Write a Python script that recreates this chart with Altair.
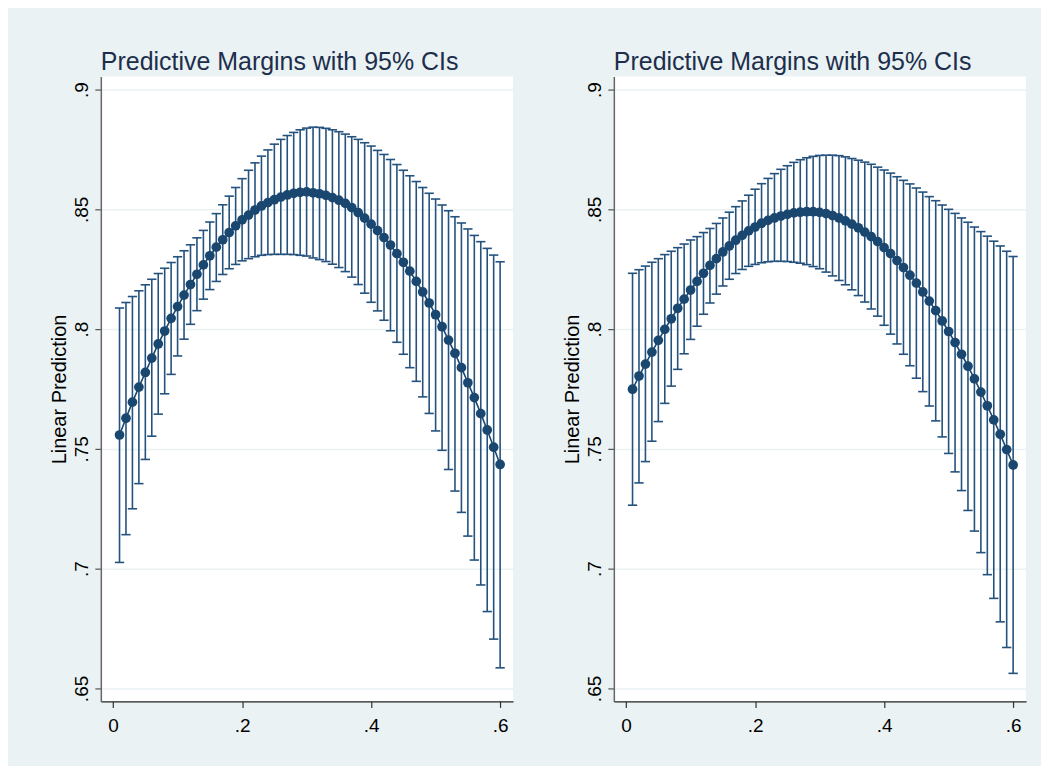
import altair as alt
import pandas as pd

# x positions (0.01 ... 0.60)
X_VALS = [0.01, 0.02, 0.03, 0.04, 0.05, 0.06, 0.07, 0.08, 0.09, 0.10,
          0.11, 0.12, 0.13, 0.14, 0.15, 0.16, 0.17, 0.18, 0.19, 0.20,
          0.21, 0.22, 0.23, 0.24, 0.25, 0.26, 0.27, 0.28, 0.29, 0.30,
          0.31, 0.32, 0.33, 0.34, 0.35, 0.36, 0.37, 0.38, 0.39, 0.40,
          0.41, 0.42, 0.43, 0.44, 0.45, 0.46, 0.47, 0.48, 0.49, 0.50,
          0.51, 0.52, 0.53, 0.54, 0.55, 0.56, 0.57, 0.58, 0.59, 0.60]

# Left panel
L_PRED = [.7558, .7628, .7695, .7758, .7819, .7879, .7938, .7992, .8045, .8094,
          .8142, .8186, .8229, .8268, .8306, .8342, .8373, .8403, .8431, .8456,
          .8476, .8497, .8514, .8528, .8540, .8551, .8560, .8567, .8571, .8573,
          .8569, .8565, .8558, .8549, .8538, .8525, .8507, .8486, .8463, .8438,
          .8411, .8382, .8351, .8315, .8279, .8242, .8199, .8155, .8109, .8060,
          .8010, .7954, .7899, .7839, .7776, .7714, .7647, .7579, .7507, .7435]
L_HI = [.8088, .8111, .8136, .8160, .8185, .8208, .8232, .8254, .8278, .8302,
        .8327, .8352, .8381, .8412, .8447, .8482, .8519, .8555, .8591, .8628,
        .8663, .8694, .8722, .8748, .8772, .8792, .8808, .8821, .8832, .8839,
        .8843, .8842, .8838, .8832, .8824, .8814, .8803, .8792, .8778, .8764,
        .8746, .8729, .8708, .8687, .8663, .8640, .8616, .8591, .8567, .8543,
        .8518, .8494, .8469, .8443, .8418, .8391, .8365, .8337, .8309, .8281]
L_LO = [.7026, .7142, .7250, .7355, .7456, .7553, .7645, .7730, .7811, .7888,
        .7958, .8020, .8077, .8125, .8165, .8199, .8228, .8252, .8270, .8285,
        .8294, .8302, .8308, .8311, .8312, .8312, .8312, .8311, .8308, .8305,
        .8297, .8290, .8282, .8271, .8257, .8240, .8217, .8186, .8150, .8112,
        .8076, .8037, .7993, .7945, .7895, .7839, .7782, .7717, .7648, .7575,
        .7494, .7414, .7324, .7235, .7136, .7036, .6932, .6821, .6706, .6586]

# Right panel
R_PRED = [.7749, .7804, .7854, .7904, .7953, .7999, .8043, .8087, .8125, .8163,
          .8199, .8233, .8266, .8294, .8322, .8347, .8371, .8391, .8410, .8426,
          .8442, .8454, .8464, .8472, .8479, .8485, .8488, .8490, .8490, .8487,
          .8482, .8474, .8464, .8452, .8438, .8423, .8405, .8386, .8365, .8340,
          .8315, .8286, .8257, .8225, .8192, .8155, .8117, .8077, .8034, .7990,
          .7944, .7895, .7845, .7792, .7737, .7680, .7621, .7561, .7497, .7433]
R_HI = [.8233, .8248, .8263, .8279, .8294, .8311, .8325, .8340, .8355, .8372,
        .8386, .8403, .8420, .8441, .8464, .8488, .8511, .8535, .8559, .8584,
        .8607, .8629, .8649, .8667, .8682, .8696, .8707, .8715, .8721, .8725,
        .8726, .8726, .8724, .8719, .8712, .8705, .8697, .8688, .8676, .8664,
        .8651, .8636, .8621, .8606, .8589, .8572, .8553, .8536, .8518, .8500,
        .8483, .8464, .8446, .8426, .8407, .8388, .8367, .8347, .8325, .8303]
R_LO = [.7265, .7358, .7447, .7532, .7614, .7690, .7762, .7832, .7897, .7957,
        .8012, .8062, .8109, .8146, .8180, .8208, .8232, .8249, .8262, .8270,
        .8277, .8281, .8283, .8283, .8282, .8279, .8275, .8269, .8261, .8252,
        .8238, .8222, .8203, .8185, .8164, .8140, .8113, .8084, .8054, .8016,
        .7979, .7938, .7895, .7847, .7795, .7739, .7679, .7617, .7550, .7481,
        .7404, .7326, .7243, .7157, .7067, .6975, .6876, .6778, .6671, .6563]

X_TICKS = [0, 0.2, 0.4, 0.6]
Y_TICKS = [0.65, 0.7, 0.75, 0.8, 0.85, 0.9]
TITLE = "Predictive Margins with 95% CIs"
Y_TITLE = "Linear Prediction"

FONT = "Liberation Sans"
NAVY = "#1a476f"
CI_COLOR = "#24527d"
BG = "#EAF2F3"

xs = alt.Scale(domain=[-0.019, 0.620], nice=False, zero=False)
ys = alt.Scale(domain=[0.6446, 0.9054], nice=False, zero=False)

xaxis = alt.Axis(values=X_TICKS, title=None, grid=False,
                 labelExpr="datum.value == 0 ? '0' : slice(toString(datum.value), 1)",
                 labelFont=FONT, labelFontSize=19, labelColor="black",
                 labelPadding=9, tickSize=6, tickColor="#333", domainColor="#222",
                 domainWidth=1.2, tickWidth=1.2, labelFlush=False, labelOverlap=False)
yaxis = alt.Axis(values=Y_TICKS, title=Y_TITLE, grid=True, gridColor=BG, gridWidth=1.5,
                 labelExpr="slice(toString(datum.value), 1)",
                 labelFont=FONT, labelFontSize=19, labelColor="black",
                 labelAngle=270, labelAlign="center", labelBaseline="bottom",
                 labelPadding=3, tickSize=6, tickColor="#555", domainColor="#666",
                 domainWidth=1.5, tickWidth=1.2, labelFlush=False, labelOverlap=False,
                 titleFont=FONT, titleFontSize=20, titleFontWeight="normal",
                 titleColor="black", titlePadding=3)


def panel(pred, lo, hi):
    df = pd.DataFrame({"x": X_VALS, "pred": pred, "lo": lo, "hi": hi})
    base = alt.Chart(df)
    X = alt.X("x:Q", scale=xs, axis=xaxis)
    whisk = base.mark_rule(color=CI_COLOR, strokeWidth=1.6).encode(
        x=X, y=alt.Y("lo:Q", scale=ys, axis=yaxis), y2="hi:Q")
    capbase = base.transform_calculate(xl="datum.x - 0.0072", xr="datum.x + 0.0072")
    cap_lo = capbase.mark_rule(color=CI_COLOR, strokeWidth=1.6).encode(
        x=alt.X("xl:Q", scale=xs, axis=xaxis), x2="xr:Q",
        y=alt.Y("lo:Q", scale=ys, axis=yaxis))
    cap_hi = capbase.mark_rule(color=CI_COLOR, strokeWidth=1.6).encode(
        x=alt.X("xl:Q", scale=xs, axis=xaxis), x2="xr:Q",
        y=alt.Y("hi:Q", scale=ys, axis=yaxis))
    line = base.mark_line(color=NAVY, strokeWidth=1.6).encode(
        x=X, y=alt.Y("pred:Q", scale=ys, axis=yaxis))
    pts = base.mark_circle(color=NAVY, size=95, opacity=1).encode(
        x=X, y=alt.Y("pred:Q", scale=ys, axis=yaxis))
    return alt.layer(whisk, cap_lo, cap_hi, line, pts).properties(
        width=413, height=626,
        title=alt.TitleParams(TITLE, anchor="start", frame="group", font=FONT, fontSize=25,
                              fontWeight="normal", color="#1c2e4c", offset=2, dx=0))


chart = alt.hconcat(panel(L_PRED, L_LO, L_HI), panel(R_PRED, R_LO, R_HI), spacing=50).properties(
    padding={"left": 42, "top": 41, "right": 15, "bottom": 30}
).configure(background=BG).configure_view(stroke=None, fill="white")

chart.save("out.html", embed_options={"renderer": "svg", "actions": False})
